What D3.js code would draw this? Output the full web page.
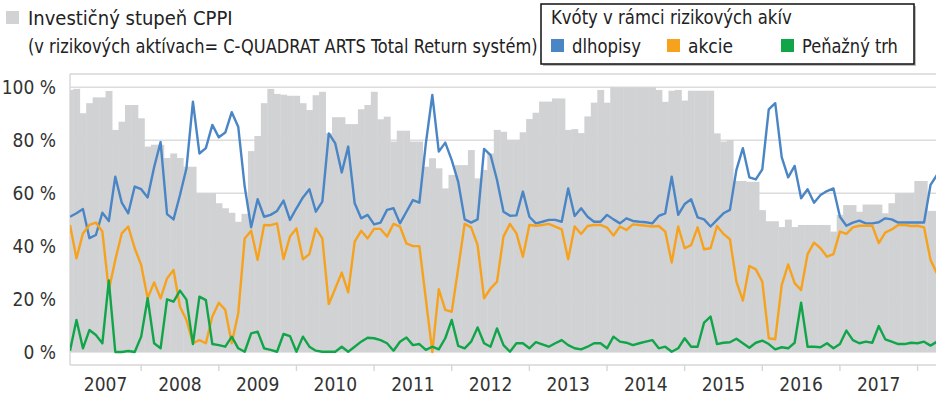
<!DOCTYPE html>
<html>
<head>
<meta charset="utf-8">
<script src="https://cdn.jsdelivr.net/npm/d3@7"></script>
<style>
  html, body { margin: 0; padding: 0; background: #fff; }
  svg { display: block; font-family: "Liberation Sans Narrow", "DejaVu Sans Condensed", "Arial Narrow", sans-serif; font-stretch: condensed; }
</style>
</head>
<body>
<div id="chart"></div>
<script>
// monthly data, Feb 2007 .. Jun 2018 (only first months of 2018 visible)
const firstMonth = [2007, 1]; // year, month index (Feb)

const years = ["2007", "2008", "2009", "2010", "2011", "2012", "2013", "2014", "2015", "2016", "2017"];
const yTicks = [0, 20, 40, 60, 80, 100];

// Investičný stupeň CPPI (gray bars)
const cppi = [
  99, 99.4, 90.2, 94, 96.2, 96.2, 98.6, 83.9, 87, 93.3, 93.3, 88.3,
  77.6, 78.3, 78.3, 73.3, 75, 73.3, 70, 70, 60, 60, 60, 56.2,
  54.3, 52.6, 49.2, 52.2, 75.9, 81.6, 94, 99.4, 97.5, 97.2, 96.8, 96.8,
  94, 91.4, 97, 98.3, 82.6, 88.7, 88.7, 86.1, 86.1, 91.7, 93.3, 98.3,
  87.9, 88.9, 79.5, 83.6, 83.6, 79.5, 79.5, 70, 73.2, 69.4, 61.8, 66.9,
  70.6, 70.6, 76.3, 65.6, 68.8, 75, 83.9, 83.2, 80.1, 80.1, 83, 88,
  90.4, 94.6, 94.6, 95.8, 95.8, 83.9, 84.2, 82.7, 89, 94.2, 99, 94.2,
  100, 100, 100, 100, 100, 100, 100, 99, 94.5, 98.7, 99, 95,
  98.7, 98.7, 98.7, 98.7, 82.6, 79.5, 80.1, 64.6, 64.6, 64.3, 64.3, 53.6,
  49.4, 49.4, 47.2, 50, 47.2, 48, 48, 48, 48, 48, 45.5, 51.8,
  55.5, 55.5, 53, 55.7, 55.7, 55.7, 52.4, 56.2, 60, 60, 60, 64.6,
  64.6, 53.3, 53.3
];

// dlhopisy
const bonds = [
  51.1, 52.4, 54, 43, 44.2, 52.6, 49.5, 66.2, 56.4, 52.4, 62.5, 61.5,
  58.4, 69.8, 79.3, 52.1, 50.1, 59.3, 69.4, 94.6, 75, 77, 85.8, 81.1,
  82.9, 90.6, 85.1, 62.5, 47.1, 57.7, 51.1, 51.8, 53.3, 57.2, 49.9, 54.3,
  58.4, 61.5, 53, 56.8, 82.6, 78.8, 67.8, 77.6, 56.2, 50.5, 51.8, 48.2,
  48.9, 53.7, 54.3, 48.6, 53, 57.4, 56.4, 78.8, 97.1, 75.7, 79.1, 72.5,
  64.3, 50.1, 48.9, 50.1, 76.7, 74.4, 65, 53, 51.5, 51.6, 60.6, 51.1,
  48.6, 49.2, 49.9, 49.9, 49.2, 61.8, 51.4, 54.3, 51.1, 49.2, 49.2, 51.8,
  50.1, 48.6, 50.5, 49.5, 49.2, 49, 48.6, 51.4, 52.4, 66.2, 51.8, 55.9,
  57.7, 50.9, 50.1, 47.4, 49.9, 52.4, 53.7, 68.8, 77, 66, 65.2, 69,
  91.7, 94, 73.6, 66, 70.3, 58.1, 61.5, 56.4, 59.3, 60.8, 61.8, 51.1,
  47.7, 48.9, 49.6, 48.6, 48.6, 49, 50.5, 50.1, 48.9, 48.9, 48.9, 48.9,
  48.9, 63.1, 66.9
];

// akcie
const equities = [
  48, 35.4, 44.8, 48, 48.9, 45.5, 23.4, 34.8, 44.8, 47.4, 39.2, 32.9,
  20.3, 26.3, 20.3, 27.8, 31, 17.1, 12.1, 3.3, 4.5, 3.3, 13.4, 18.6,
  15.9, 3.3, 14.6, 42.9, 45.8, 34.8, 48, 47.9, 48.6, 35.1, 43.6, 46.7,
  35, 37, 46.7, 42.9, 18.1, 24, 30, 22.5, 41.7, 45.8, 42.9, 46.5,
  46.5, 43.6, 48.4, 47.4, 41, 40, 40, 20, 0, 23.7, 15.9, 15.2,
  31.6, 48.4, 47.1, 40.4, 20.3, 24, 26.6, 43.6, 48.4, 44.8, 36, 48,
  47.7, 48, 48.4, 47.4, 46.3, 35, 47.4, 44.6, 47.6, 48, 48, 47,
  44, 47.4, 46.1, 48.2, 48, 47.7, 47.4, 47.6, 45.5, 33.8, 47.4, 39.2,
  40.4, 47.1, 38.8, 39.2, 47.6, 44.6, 42.6, 26.6, 19.4, 32.5, 31.2, 26.6,
  5.2, 4.8, 25.3, 33.1, 26, 23.4, 37, 41.3, 39.2, 36, 37, 45.5,
  44.6, 47.1, 47.7, 47.7, 47.7, 41.1, 45.1, 46.3, 48, 48, 47.6, 47.7,
  47.1, 34.8, 29.7
];

// Peňažný trh
const money = [
  0.5, 12.1, 1.4, 8.3, 6.4, 3.3, 27, 0, 0, 0.4, 0, 5.8,
  20.3, 3.3, 1.4, 19.9, 19, 23.2, 19.8, 3, 20.9, 19.6, 3, 2.6,
  2, 5.8, 1.4, 0.1, 7, 7.7, 1.4, 0.8, 0.1, 6.8, 6, 0.1,
  5.8, 2, 0.5, 0.1, 0.1, 0.1, 2, 0.1, 2, 3.9, 5.4, 5.2,
  4.5, 3.3, 0.5, 3.9, 5.5, 2.6, 3, 0.8, 2, 1, 5.2, 12.1,
  2.3, 1.4, 3.9, 9.3, 3.3, 2, 8.9, 2.6, 0.1, 3.3, 3.3, 1.4,
  3.7, 2.9, 2, 3.3, 4.5, 2.6, 1.4, 1, 2, 3.3, 3.3, 1.4,
  5.8, 3.9, 3.5, 2.6, 3.3, 3.9, 4.5, 1.4, 2, 0.1, 1.4, 5.2,
  2, 2, 11.1, 13.4, 3, 3.5, 3.7, 5, 3.3, 1.6, 3.5, 4.3,
  3, 1, 1.8, 1.4, 3.5, 18.6, 2, 2, 1.8, 3.3, 1.4, 3,
  8.1, 4.5, 3.3, 3.9, 3.5, 9.8, 4.8, 3.9, 3, 3, 3.5, 3.3,
  3.9, 2.4, 3.9
];

const seriesNames = ["dlhopisy", "akcie", "Peňažný trh"];
const seriesColors = ["#4a85c6", "#f7a21d", "#11a54a"];
const series = [bonds, equities, money];

const width = 936, height = 401;
const plotLeft = 70, plotTop = 74, plotBottom = 365, plotRight = 936;
const step = 6.47;

const svg = d3.select("#chart").append("svg")
  .attr("width", width)
  .attr("height", height);

const n = cppi.length;
const dates = cppi.map((_, i) => new Date(firstMonth[0], firstMonth[1] + i, 1));

const x = d3.scaleLinear()
  .domain([0, n - 1])
  .range([plotLeft, plotLeft + (n - 1) * step]);

const y = d3.scaleLinear()
  .domain([0, 100])
  .range([352, 87.3]);

svg.append("clipPath").attr("id", "plotClip")
  .append("rect")
  .attr("x", plotLeft).attr("y", plotTop)
  .attr("width", plotRight - plotLeft).attr("height", plotBottom - plotTop);

// frame
const frame = svg.append("g").attr("stroke", "#d6d6d6").attr("stroke-width", 1.4).attr("fill", "none");
frame.append("line").attr("x1", plotLeft).attr("x2", plotRight).attr("y1", plotTop).attr("y2", plotTop);
frame.append("line").attr("x1", plotLeft).attr("x2", plotLeft).attr("y1", plotTop).attr("y2", plotBottom);
frame.append("line").attr("x1", plotLeft).attr("x2", plotRight).attr("y1", plotBottom).attr("y2", plotBottom);

// gridlines
svg.append("g")
  .selectAll("line")
  .data(yTicks)
  .join("line")
  .attr("x1", plotLeft).attr("x2", plotRight)
  .attr("y1", d => y(d)).attr("y2", d => y(d))
  .attr("stroke", "#dcdcdc")
  .attr("stroke-width", 1.4);

const plot = svg.append("g").attr("clip-path", "url(#plotClip)");

// gray bars
plot.append("g")
  .selectAll("rect")
  .data(cppi)
  .join("rect")
  .attr("x", (d, i) => x(i) - step / 2)
  .attr("width", step + 0.4)
  .attr("y", d => y(d))
  .attr("height", d => y(0) - y(d))
  .attr("fill", "#d1d2d4");

// lines
const line = d3.line()
  .x((d, i) => x(i))
  .y(d => y(d));

series.forEach((s, k) => {
  plot.append("path")
    .datum(s)
    .attr("fill", "none")
    .attr("stroke", seriesColors[k])
    .attr("stroke-width", 2.4)
    .attr("stroke-linejoin", "round")
    .attr("d", line);
});

// y axis labels
svg.append("g")
  .selectAll("text")
  .data(yTicks)
  .join("text")
  .attr("x", 56)
  .attr("y", d => y(d))
  .attr("dy", "0.36em")
  .attr("text-anchor", "end")
  .attr("fill", "#333")
  .style("font-size", "19px")
  .text(d => `${d} %`);

// x axis: ticks at January, labels centred in each year
const janIdx = dates.map((d, i) => d.getMonth() === 0 ? i : -1).filter(i => i >= 0);
svg.append("g")
  .selectAll("line")
  .data(janIdx)
  .join("line")
  .attr("x1", d => x(d)).attr("x2", d => x(d))
  .attr("y1", plotBottom).attr("y2", plotBottom + 6)
  .attr("stroke", "#d6d6d6")
  .attr("stroke-width", 1.4);

svg.append("g")
  .selectAll("text")
  .data(years)
  .join("text")
  .attr("x", yr => {
    const idx = dates.map((d, i) => d.getFullYear() === +yr ? i : -1).filter(i => i >= 0);
    return x((idx[0] + idx[idx.length - 1] + 1) / 2);
  })
  .attr("y", 391)
  .attr("text-anchor", "middle")
  .attr("fill", "#333")
  .style("font-size", "19px")
  .text(d => d);

// squeeze a text horizontally so it spans the wanted width
function fitText(px, py, str, w, size) {
  const t = svg.append("text")
    .attr("fill", "#222")
    .style("font-size", size + "px")
    .text(str);
  const natural = t.node().getComputedTextLength();
  const sx = Math.min(1, w / natural);
  t.attr("transform", `translate(${px},${py}) scale(${sx},1)`);
  return t;
}

// left legend (CPPI)
svg.append("rect")
  .attr("x", 6).attr("y", 11).attr("width", 13).attr("height", 13)
  .attr("fill", "#d1d2d4");
fitText(28, 25, "Investičný stupeň CPPI", 216, 20);
fitText(28, 53, "(v rizikových aktívach= C-QUADRAT ARTS Total Return systém)", 510, 20);

// right legend box
svg.append("rect")
  .attr("x", 543).attr("y", 6).attr("width", 373).attr("height", 60)
  .attr("fill", "#bdbdbd");
svg.append("rect")
  .attr("x", 541).attr("y", 4).attr("width", 373).attr("height", 60)
  .attr("fill", "#fff")
  .attr("stroke", "#111")
  .attr("stroke-width", 1.5);
fitText(551, 24, "Kvóty v rámci rizikových akív", 241, 19);

const legendX = [551, 667, 781];
const legendW = [69, 50, 96];
seriesNames.forEach((name, i) => {
  svg.append("rect")
    .attr("x", legendX[i]).attr("y", 39).attr("width", 13).attr("height", 13)
    .attr("fill", seriesColors[i]);
  fitText(legendX[i] + 21, 53, name, legendW[i], 19);
});
</script>
</body>
</html>
